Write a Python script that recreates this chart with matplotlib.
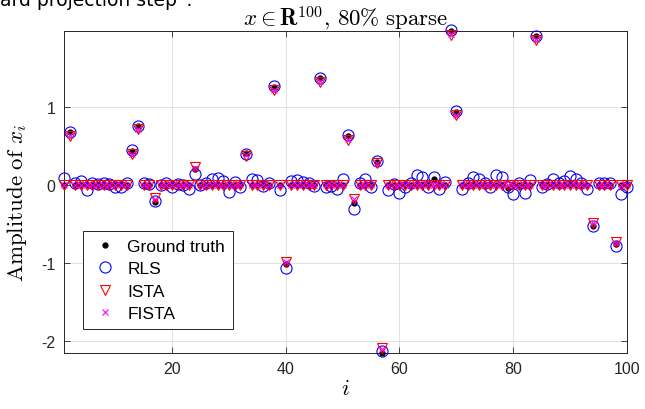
import matplotlib
matplotlib.use("Agg")
import matplotlib.pyplot as plt
import numpy as np

plt.rcParams['font.family'] = ['Liberation Sans', 'DejaVu Sans']
plt.rcParams['mathtext.fontset'] = 'cm'
plt.rcParams['axes.unicode_minus'] = False

n = 100
idx = np.arange(1, n + 1)

# non-zero entries of the sparse signal: index, ground truth, RLS, ISTA, FISTA
nz_index = [2, 13, 14, 17, 24, 33, 38, 40, 46, 51, 52, 56, 57, 66, 69, 70, 79, 84, 94, 98]
nz_truth = [0.68, 0.44, 0.75, -0.22, 0.20, 0.41, 1.25, -1.01, 1.37, 0.63,
            -0.23, 0.30, -2.15, 0.08, 1.97, 0.93, -0.04, 1.90, -0.52, -0.76]
nz_ista = [0.63, 0.39, 0.72, -0.17, 0.23, 0.37, 1.21, -0.98, 1.32, 0.58,
           -0.18, 0.28, -2.09, 0.0, 1.92, 0.89, 0.0, 1.86, -0.49, -0.73]
nz_fista = [0.64, 0.40, 0.72, -0.18, 0.22, 0.38, 1.22, -0.98, 1.33, 0.59,
            -0.18, 0.28, -2.10, 0.0, 1.93, 0.90, 0.0, 1.87, -0.49, -0.74]

# RLS (least squares) estimate, all 100 entries
rls = [0.09, 0.68, 0.02, 0.05, -0.06, 0.03, 0.01, 0.02, 0.01, -0.02,
       -0.03, 0.03, 0.45, 0.76, 0.02, 0.01, -0.20, 0.00, 0.02, -0.02,
       0.01, 0.00, -0.05, 0.14, 0.00, 0.02, 0.08, 0.09, 0.05, -0.09,
       0.04, -0.02, 0.40, 0.07, 0.06, -0.01, 0.02, 1.26, -0.06, -1.06,
       0.05, 0.06, 0.04, 0.02, -0.01, 1.37, -0.03, -0.01, -0.05, 0.07,
       0.64, -0.31, 0.02, 0.07, -0.03, 0.31, -2.13, -0.06, 0.01, -0.10,
       -0.03, 0.02, 0.13, 0.10, -0.02, 0.10, -0.05, 0.04, 1.98, 0.94,
       -0.05, 0.02, 0.10, 0.08, 0.02, -0.02, 0.13, 0.10, -0.02, -0.12,
       0.03, -0.10, 0.06, 1.91, -0.03, 0.01, 0.07, 0.02, 0.05, 0.12,
       0.08, 0.02, -0.05, -0.52, 0.03, 0.02, 0.02, -0.78, -0.12, -0.02]

truth = np.zeros(n)
ista = np.zeros(n)
fista = np.zeros(n)
for k, i in enumerate(nz_index):
    truth[i - 1] = nz_truth[k]
    ista[i - 1] = nz_ista[k]
    fista[i - 1] = nz_fista[k]

fig = plt.figure(figsize=(6.45, 4.1), dpi=100)
ax = fig.add_axes([0.0992, 0.1366, 0.8728, 0.7854])

ax.plot(idx, truth, 'k.', markersize=7, label='Ground truth', clip_on=False, zorder=3)
ax.plot(idx, rls, 'o', mfc='none', mec=(0, 0, 1), markersize=8, mew=0.8,
        label='RLS', clip_on=False, zorder=3)
ax.plot(idx, ista, 'v', mfc='none', mec=(1, 0, 0), markersize=7.5, mew=0.8,
        label='ISTA', clip_on=False, zorder=3)
ax.plot(idx, fista, 'x', color=(1, 0, 1), markersize=5, mew=0.8,
        label='FISTA', clip_on=False, zorder=3)

ax.set_xlim(1, 100)
ax.set_ylim(-2.15, 1.97)
ax.set_xticks([20, 40, 60, 80, 100])
ax.set_yticks([-2, -1, 0, 1])
ax.tick_params(direction='in', top=True, right=True, length=4, width=0.6,
               labelsize=11.5, colors='#262626', pad=6)
ax.grid(True, color='#dcdcdc', linewidth=0.6)
ax.set_axisbelow(True)
for s in ax.spines.values():
    s.set_color('#262626')
    s.set_linewidth(0.7)

ax.set_title(r'$x \in \mathbf{R}^{100},\, 80\%\ \mathrm{sparse}$', fontsize=16.5, pad=4)
ax.set_xlabel(r'$i$', fontsize=16.5, labelpad=0)
ax.set_ylabel(r'$\mathrm{Amplitude\ of}\ x_i$', fontsize=16.5)
ax.yaxis.set_label_coords(-0.062, 0.47)

leg = ax.legend(loc='lower left', bbox_to_anchor=(0.034, 0.075), borderaxespad=0,
                fancybox=False, edgecolor='#262626', framealpha=1, fontsize=12.5,
                handletextpad=0.5, borderpad=0.45, labelspacing=0.42, handlelength=1.6)
leg.get_frame().set_linewidth(0.7)

# caption fragment cut off at the top of the screenshot
fig.text(0.0, 0.986, 'ard projection step\u201d.', fontsize=13.5,
         family='DejaVu Sans', va='baseline', ha='left')

fig.savefig('out.png', dpi=100)
